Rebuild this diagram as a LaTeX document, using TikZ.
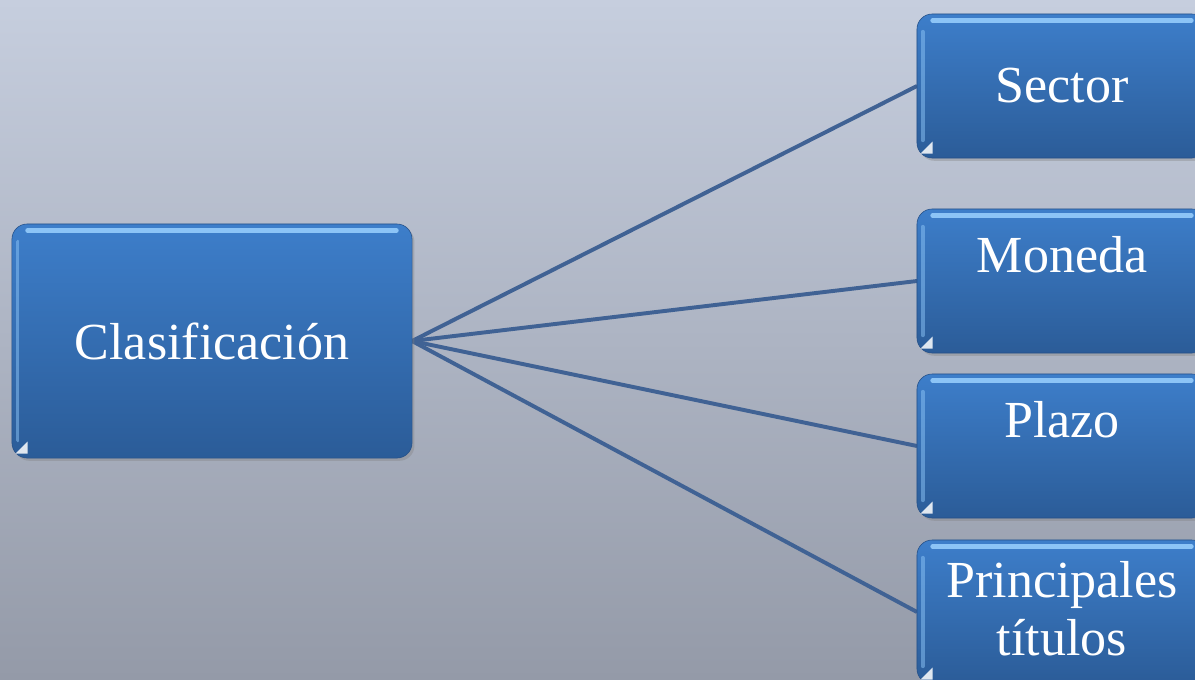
\documentclass[tikz,border=0pt]{standalone}
\usepackage{fontspec}
\setmainfont{Liberation Serif}
\usetikzlibrary{shadows}
\definecolor{bgtop}{RGB}{198,206,222}
\definecolor{bgbot}{RGB}{148,154,168}
\definecolor{boxtop}{RGB}{61,126,202}
\definecolor{boxbot}{RGB}{43,92,152}
\definecolor{boxedge}{RGB}{38,80,135}
\definecolor{link}{RGB}{64,98,148}
\definecolor{gloss}{RGB}{140,196,246}
\begin{document}
\begin{tikzpicture}[x=0.025cm,y=-0.025cm,
  box/.style={rounded corners=0.38cm, top color=boxtop, bottom color=boxbot,
    draw=boxedge, line width=0.4pt, inner sep=0pt,
    drop shadow={opacity=0.35, shadow xshift=0.06cm, shadow yshift=-0.07cm},
    text=white, font=\fontsize{37}{42}\selectfont, align=center},
  bigbox/.style={box, minimum width=10cm, minimum height=5.85cm},
  smallbox/.style={box, minimum width=7.25cm, minimum height=3.6cm},
  label/.style={text=white, font=\fontsize{37}{41}\selectfont, align=center, inner sep=0pt},
  link/.style={draw=link, line width=2.8pt},
  shine/.style={draw=gloss, line width=3.4pt, line cap=round},
  sideshine/.style={draw=gloss, line width=2.6pt, opacity=0.5, line cap=round}]

% background
\shade[top color=bgtop, bottom color=bgbot] (0,0) rectangle (1195,679);
\useasboundingbox (0,0) rectangle (1195,679);

% connectors (drawn first, boxes sit on top)
\coordinate (hub) at (412,341);
\coordinate (sectorin) at (917,86);
\coordinate (monedain) at (917,281);
\coordinate (plazoin) at (917,446);
\coordinate (titulosin) at (917,612);
\draw[link] (hub) -- (sectorin);
\draw[link] (hub) -- (monedain);
\draw[link] (hub) -- (plazoin);
\draw[link] (hub) -- (titulosin);

% boxes
\node[bigbox] (clas) at (212,341) {Clasificación};
\node[smallbox] (sector) at (1062,86) {Sector};
\node[smallbox] (moneda) at (1062,281) {};
\node[label] (monedat) at (1062,255) {Moneda};
\node[smallbox] (plazo) at (1062,446) {};
\node[label] (plazot) at (1062,420) {Plazo};
\node[smallbox] (titulos) at (1062,612) {};
\node[label] (titulost) at (1062,609) {Principales\\títulos};

% glossy highlights along the top and left edges
\foreach \n in {clas,sector,moneda,plazo,titulos}{
  \draw[shine] ([xshift=0.4cm,yshift=-0.17cm]\n.north west) -- ([xshift=-0.4cm,yshift=-0.17cm]\n.north east);
  \draw[sideshine] ([xshift=0.15cm,yshift=-0.45cm]\n.north west) -- ([xshift=0.15cm,yshift=0.45cm]\n.south west);
  \fill[white, opacity=0.85] ([xshift=0.1cm,yshift=0.12cm]\n.south west) -- ++(0.3cm,0) -- ++(0,0.3cm) -- cycle;
}
\end{tikzpicture}
\end{document}
